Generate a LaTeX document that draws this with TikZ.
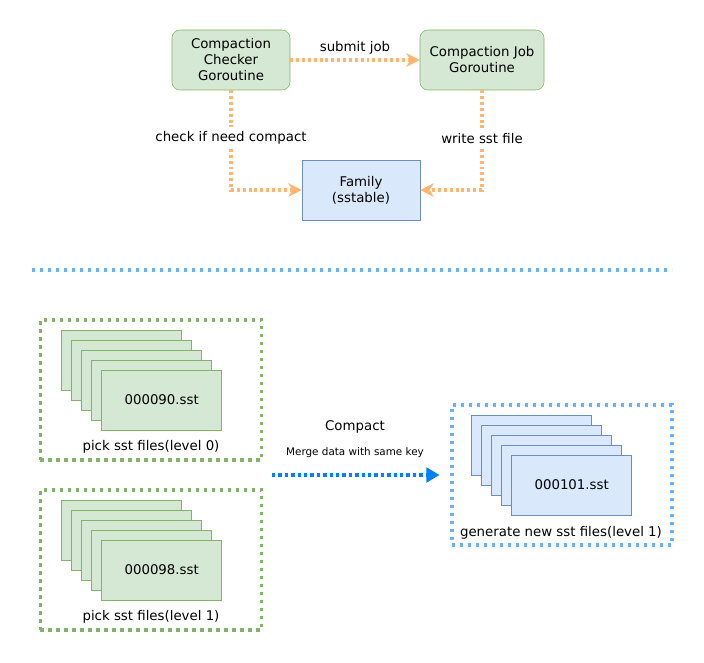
\documentclass[tikz,border=0pt]{standalone}
\usepackage{fontspec}
\setmainfont{DejaVu Sans}
\usetikzlibrary{arrows.meta}
\definecolor{gfill}{HTML}{D5E8D4}
\definecolor{gline}{HTML}{82B366}
\definecolor{bfill}{HTML}{DAE8FC}
\definecolor{bline}{HTML}{6C8EBF}
\definecolor{oflowc}{HTML}{FFB570}
\definecolor{dotblue}{HTML}{66B2FF}
\definecolor{arrblue}{HTML}{007FFF}
\begin{document}
\begin{tikzpicture}[x=0.75pt, y=-0.75pt, font=\fontsize{10}{12}\selectfont,
    gobox/.style = {draw=gline, fill=gfill, rounded corners=6pt, align=center, minimum height=45pt},
    famnode/.style = {draw=bline, fill=bfill, align=center, minimum width=88.5pt, minimum height=45pt},
    oflow/.style = {draw=oflowc, line width=2.4pt, dash pattern=on 2.2pt off 2.2pt, -{Stealth[length=10pt, width=10pt, inset=3pt]}},
    gfile/.style = {draw=gline, fill=gfill, minimum width=90pt, minimum height=45pt},
    bfile/.style = {draw=bline, fill=bfill, minimum width=90pt, minimum height=45pt},
    gcont/.style = {draw=gline, line width=2.6pt, dash pattern=on 2.6pt off 3.4pt, minimum width=166pt, minimum height=105pt},
    bcont/.style = {draw=dotblue, line width=2.6pt, dash pattern=on 2.6pt off 3.4pt, minimum width=165pt, minimum height=105pt}]
    \useasboundingbox (0, 0) rectangle (704, 663);

    \node [gobox, minimum width=88.5pt] (checker) at (231, 60) {Compaction\\Checker\\Goroutine};
    \node [gobox, minimum width=93pt] (job) at (482, 60) {Compaction Job\\Goroutine};
    \node [famnode] (family) at (361, 190) {Family\\(sstable)};

    \draw [oflow] (checker.east) -- node [above, inner sep=3pt] {submit job} (job.west);
    \draw [oflow] (checker.south) |- node [pos=0.24, fill=white] {check if need compact} (family.west);
    \draw [oflow] (job.south) |- node [pos=0.24, fill=white] {write sst file} (family.east);

    \coordinate (sepleft) at (32, 270);
    \coordinate (sepright) at (672, 270);
    \draw [dotblue, line width=2.6pt, dash pattern=on 2.6pt off 3.4pt] (sepleft) -- (sepright);

    % level 0
    \node [gcont] (lvzero) at (151, 390) {};
    \foreach \i in {0,...,3}
        \node [gfile] at (121.7 + 10*\i, 360 + 10*\i) {};
    \node [gfile] (f90) at (161.7, 400) {000090.sst};
    \node (pickzero) at (151, 447) {pick sst files(level 0)};

    % level 1
    \node [gcont] (lvone) at (151, 560) {};
    \foreach \i in {0,...,3}
        \node [gfile] at (121.7 + 10*\i, 530 + 10*\i) {};
    \node [gfile] (f98) at (161.7, 570) {000098.sst};
    \node (pickone) at (151, 617) {pick sst files(level 1)};

    % new files
    \node [bcont] (newfiles) at (562, 475) {};
    \foreach \i in {0,...,3}
        \node [bfile] at (531.7 + 10*\i, 445 + 10*\i) {};
    \node [bfile] (f101) at (571.7, 485) {000101.sst};
    \node (gennew) at (561, 533) {generate new sst files(level 1)};

    \node (compact) at (355, 427) {Compact};
    \node [font=\fontsize{7.8}{9}\selectfont] (merge) at (355, 453) {Merge data with same key};
    \coordinate (mergefrom) at (272, 475);
    \draw [arrblue, line width=2.6pt, dash pattern=on 2.6pt off 2.2pt, -{Triangle[length=10pt, width=11pt]}, shorten >=8pt] (mergefrom) -- (newfiles.west);
\end{tikzpicture}
\end{document}
